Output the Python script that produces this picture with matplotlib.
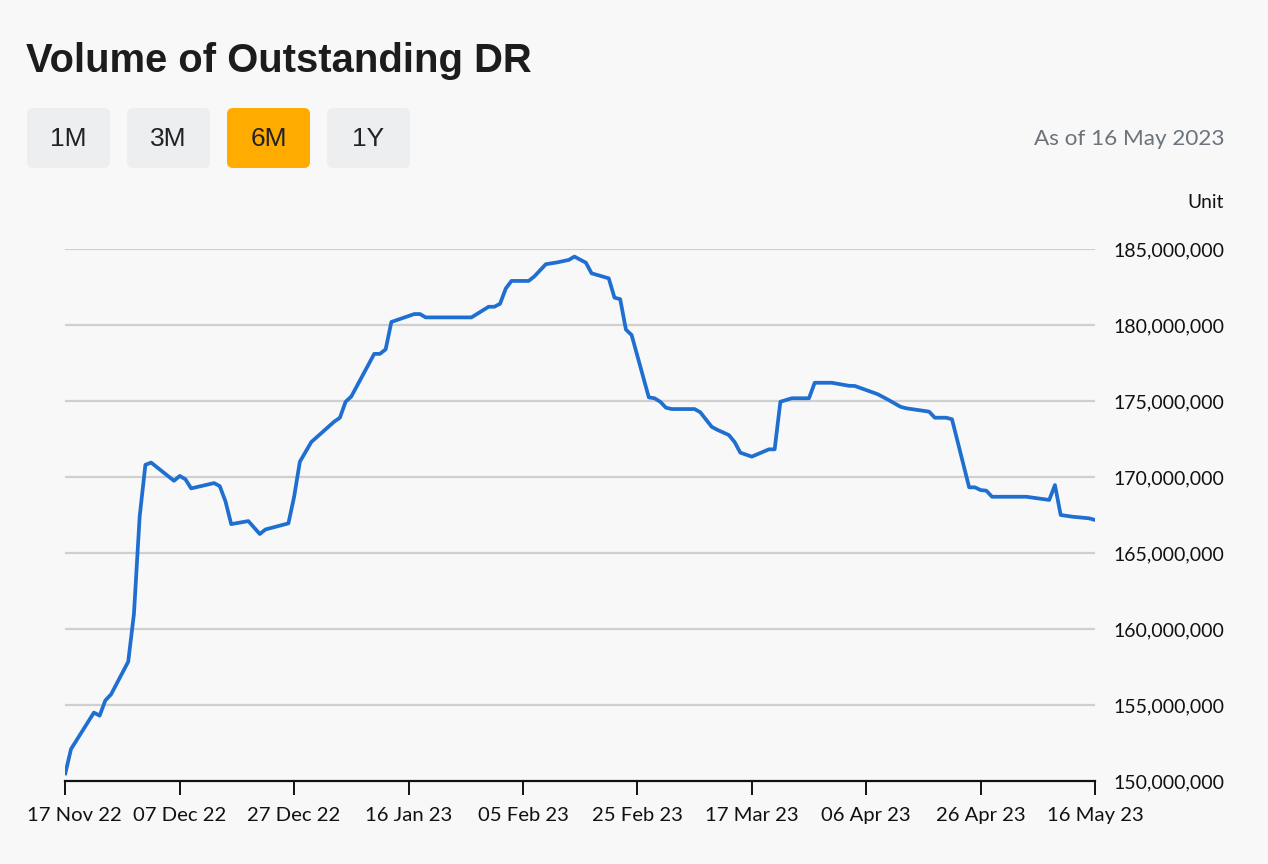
import matplotlib
matplotlib.use("Agg")
import matplotlib.pyplot as plt
import matplotlib.dates as mdates
import matplotlib.transforms as mtransforms
from matplotlib.patches import FancyBboxPatch
from matplotlib.ticker import FuncFormatter
import numpy as np
import pandas as pd

# ---------------- data ----------------
dates = [
    "2022-11-17", "2022-11-18", "2022-11-22", "2022-11-23", "2022-11-24", "2022-11-25",
    "2022-11-28", "2022-11-29", "2022-11-30", "2022-12-01", "2022-12-02", "2022-12-06",
    "2022-12-07", "2022-12-08", "2022-12-09", "2022-12-13", "2022-12-14", "2022-12-15",
    "2022-12-16", "2022-12-19", "2022-12-21", "2022-12-22", "2022-12-26", "2022-12-27",
    "2022-12-28", "2022-12-30", "2023-01-03", "2023-01-04", "2023-01-05", "2023-01-06",
    "2023-01-10", "2023-01-11", "2023-01-12", "2023-01-13", "2023-01-17", "2023-01-18",
    "2023-01-19", "2023-01-27", "2023-01-30", "2023-01-31", "2023-02-01", "2023-02-02",
    "2023-02-03", "2023-02-06", "2023-02-07", "2023-02-09", "2023-02-11", "2023-02-13",
    "2023-02-14", "2023-02-16", "2023-02-17", "2023-02-20", "2023-02-21", "2023-02-22",
    "2023-02-23", "2023-02-24", "2023-02-27", "2023-02-28", "2023-03-01", "2023-03-02",
    "2023-03-03", "2023-03-07", "2023-03-08", "2023-03-10", "2023-03-11", "2023-03-13",
    "2023-03-14", "2023-03-15", "2023-03-17", "2023-03-20", "2023-03-21", "2023-03-22",
    "2023-03-24", "2023-03-27", "2023-03-28", "2023-03-31", "2023-04-03", "2023-04-04",
    "2023-04-06", "2023-04-08", "2023-04-10", "2023-04-12", "2023-04-13", "2023-04-17",
    "2023-04-18", "2023-04-20", "2023-04-21", "2023-04-24", "2023-04-25", "2023-04-26",
    "2023-04-27", "2023-04-28", "2023-05-04", "2023-05-08", "2023-05-09", "2023-05-10",
    "2023-05-12", "2023-05-15", "2023-05-16",
]
volume_millions = [
    150.5, 152.1, 154.5, 154.3, 155.3, 155.7,
    157.85, 161.0, 167.4, 170.8, 170.95, 169.75,
    170.07, 169.85, 169.25, 169.6, 169.4, 168.4,
    166.9, 167.1, 166.25, 166.55, 166.95, 168.7,
    171.0, 172.3, 173.64, 173.9, 174.95, 175.3,
    178.1, 178.1, 178.4, 180.2, 180.72, 180.72,
    180.5, 180.5, 181.2, 181.2, 181.4, 182.4,
    182.9, 182.9, 183.2, 184.0, 184.12, 184.28,
    184.5, 184.1, 183.4, 183.07, 181.8, 181.7,
    179.7, 179.34, 175.24, 175.18, 174.95, 174.56,
    174.47, 174.47, 174.26, 173.3, 173.1, 172.76,
    172.3, 171.6, 171.34, 171.82, 171.82, 174.95,
    175.18, 175.18, 176.2, 176.2, 176.0, 175.99,
    175.72, 175.45, 175.05, 174.62, 174.52, 174.3,
    173.9, 173.9, 173.8, 169.32, 169.32, 169.14,
    169.1, 168.7, 168.7, 168.49, 169.47, 167.5,
    167.39, 167.28, 167.17,
]
x_tick_dates = ["2022-11-17", "2022-12-07", "2022-12-27", "2023-01-16", "2023-02-05",
                "2023-02-25", "2023-03-17", "2023-04-06", "2023-04-26", "2023-05-16"]
y_ticks = [150e6, 155e6, 160e6, 165e6, 170e6, 175e6, 180e6, 185e6]
buttons = ["1M", "3M", "6M", "1Y"]
selected_button = "6M"
title = "Volume of Outstanding DR"
as_of_text = "As of 16 May 2023"
unit_text = "Unit"

x = pd.to_datetime(dates)
y = np.array(volume_millions) * 1e6
xt = pd.to_datetime(x_tick_dates)

# ---------------- figure ----------------
W, H = 1268, 864
BG = "#f8f8f9"
fig = plt.figure(figsize=(W / 100, H / 100), dpi=100, facecolor=BG)

LABEL_FONT = ["Lato", "DejaVu Sans"]
TICK_SIZE = 14.6
YTICK_SIZE = 14.0

ax_l, ax_r, ax_t, ax_b = 65.3, 1095.0, 249.0, 781.0
ax = fig.add_axes([ax_l / W, 1 - ax_b / H, (ax_r - ax_l) / W, (ax_b - ax_t) / H])
ax.set_facecolor(BG)

for yt in y_ticks[1:]:
    ax.axhline(yt, color="#d0d0d0", lw=1.6, zorder=1)

ax.plot(x, y, color="#1f6fd1", lw=2.7, zorder=3, solid_joinstyle="round")

ax.set_xlim(xt[0], xt[-1])
ax.set_ylim(150e6, 185e6)

for s in ["top", "left", "right"]:
    ax.spines[s].set_visible(False)
ax.spines["bottom"].set_color("#111111")
ax.spines["bottom"].set_linewidth(1.6)

date_fmt = mdates.DateFormatter("%d %b %y")
first_tick_num = mdates.date2num(xt[0])
ax.set_xticks(xt)
ax.xaxis.set_major_formatter(
    FuncFormatter(lambda v, p: "" if abs(v - first_tick_num) < 1e-6 else date_fmt(v, p)))
ax.tick_params(axis="x", direction="out", length=10, width=1.4, color="#111111",
               pad=9, labelsize=TICK_SIZE, labelcolor="#111111")

# first date label is nudged right so it stays within the page margin
shift = (mtransforms.ScaledTranslation(9 / 100, 0, fig.dpi_scale_trans) +
         mtransforms.ScaledTranslation(0, -(10 + 9) / 72, fig.dpi_scale_trans))
ax.text(xt[0], 0, date_fmt(first_tick_num), transform=ax.get_xaxis_transform() + shift,
        ha="center", va="top", fontsize=TICK_SIZE, color="#111111", family=LABEL_FONT,
        clip_on=False)

ax.yaxis.tick_right()
ax.set_yticks(y_ticks)
ax.yaxis.set_major_formatter(FuncFormatter(lambda v, p: f"{v:,.0f}"))
ax.tick_params(axis="y", length=0, pad=(1224 - ax_r) * 72 / 100,
               labelsize=YTICK_SIZE, labelcolor="#111111")
for lab in ax.get_yticklabels():
    lab.set_horizontalalignment("right")
for lab in ax.get_xticklabels() + ax.get_yticklabels():
    lab.set_family(LABEL_FONT)

# ---------------- overlay (title, buttons, notes) ----------------
ov = fig.add_axes([0, 0, 1, 1], facecolor="none")
ov.set_xlim(0, W)
ov.set_ylim(H, 0)
ov.axis("off")

ov.text(26, 61, title, fontsize=28.8, fontweight="bold", color="#1c1c1c",
        family=["Liberation Sans", "DejaVu Sans"], ha="left", va="center")

bx0, bw, bgap, by0, bh = 27, 83, 100, 108, 60
for i, b in enumerate(buttons):
    sel = b == selected_button
    fc = "#ffab00" if sel else "#eceef0"
    patch = FancyBboxPatch((bx0 + i * bgap, by0), bw, bh,
                           boxstyle="round,pad=0,rounding_size=6",
                           fc=fc, ec="none")
    ov.add_patch(patch)
    ov.text(bx0 + i * bgap + bw / 2, by0 + bh / 2 + 1, b, fontsize=19,
            color="#222222", family=["Liberation Sans", "DejaVu Sans"],
            ha="center", va="center")

ov.text(1224, 139, as_of_text, fontsize=16.2, color="#6b737c", family=LABEL_FONT,
        ha="right", va="center")
ov.text(1224, 203, unit_text, fontsize=13.8, color="#111111", family=LABEL_FONT,
        ha="right", va="center")

fig.savefig("out.png", dpi=100, facecolor=BG)
